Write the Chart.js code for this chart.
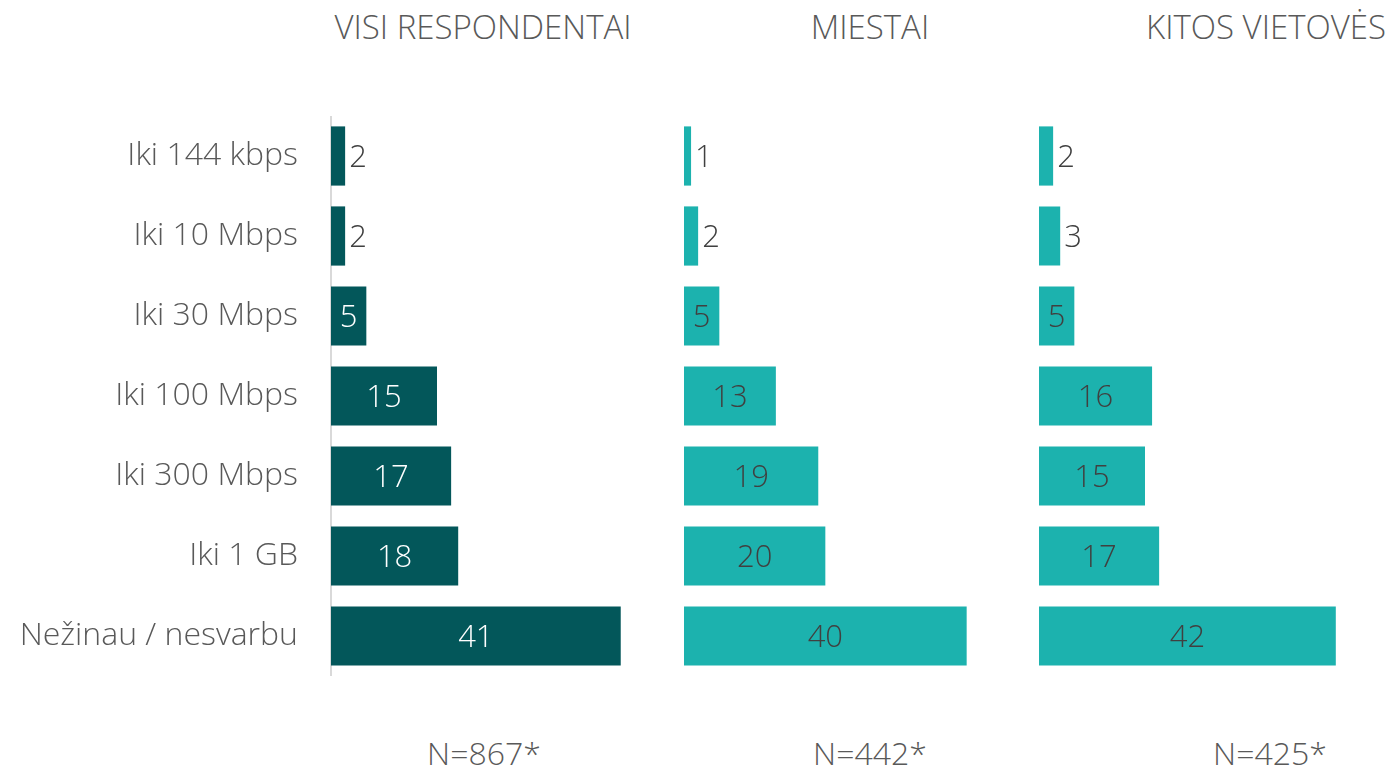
<!DOCTYPE html>
<html lang="lt">
<head>
  <meta charset="UTF-8">
  <title>Interneto greitis</title>
  <script src="https://cdn.jsdelivr.net/npm/chart.js"></script>
  <style>
    body {
      margin: 0;
      background-color: #fff;
      font-family: "Open Sans", sans-serif;
      font-weight: 300;
      color: #595959;
    }
    #wrap {
      position: relative;
      width: 1391px;
      height: 771px;
    }
    .title, .note {
      position: absolute;
      width: 400px;
      text-align: center;
      line-height: 44px;
      white-space: nowrap;
    }
    .title { top: 5px; font-size: 33px; }
    .note { top: 731px; font-size: 32px; }
    .panel { position: absolute; top: 116px; }
  </style>
</head>
<body>
  <div id="wrap">
    <div class="title" style="left:283px">VISI RESPONDENTAI</div>
    <div class="title" style="left:670px">MIESTAI</div>
    <div class="title" style="left:1066px">KITOS VIETOVĖS</div>

    <div class="panel" style="left:0"><canvas id="c1" width="649" height="560"></canvas></div>
    <div class="panel" style="left:684px"><canvas id="c2" width="318" height="560"></canvas></div>
    <div class="panel" style="left:1039px"><canvas id="c3" width="318" height="560"></canvas></div>

    <div class="note" style="left:284px">N=867*</div>
    <div class="note" style="left:670px">N=442*</div>
    <div class="note" style="left:1070px">N=425*</div>
  </div>

  <script>
    const categories = ["Iki 144 kbps", "Iki 10 Mbps", "Iki 30 Mbps", "Iki 100 Mbps", "Iki 300 Mbps", "Iki 1 GB", "Nežinau / nesvarbu"];
    const visi = [2, 2, 5, 15, 17, 18, 41];
    const miestai = [1, 2, 5, 13, 19, 20, 40];
    const kitos = [2, 3, 5, 16, 15, 17, 42];

    const FONT = "Open Sans";

    // draws value labels: centered inside the bar, or just past its end if it doesn't fit
    const barValues = {
      id: "barValues",
      afterDatasetsDraw(chart, args, opts) {
        const ctx = chart.ctx;
        const meta = chart.getDatasetMeta(0);
        const data = chart.data.datasets[0].data;
        ctx.save();
        ctx.font = "300 31px '" + FONT + "'";
        ctx.textBaseline = "middle";
        meta.data.forEach((bar, i) => {
          const txt = String(data[i]);
          const w = ctx.measureText(txt).width;
          const len = bar.x - bar.base;
          if (w + 8 > len) {
            ctx.fillStyle = opts.outside;
            ctx.textAlign = "left";
            ctx.fillText(txt, bar.x + 4, bar.y + 2);
          } else {
            ctx.fillStyle = opts.inside;
            ctx.textAlign = "center";
            ctx.fillText(txt, (bar.x + bar.base) / 2, bar.y + 2);
          }
        });
        ctx.restore();
      }
    };

    function makeChart(id, values, color, showLabels, insideColor) {
      const yAxis = {
        display: showLabels,
        grid: { display: false, drawTicks: false },
        border: { display: true, color: "#d9d9d9", width: 2 },
        ticks: {
          padding: 33,
          color: "#595959",
          font: { family: FONT, size: 32, weight: 300 }
        }
      };
      if (showLabels) {
        // fixed label column width, and no extra space above/below the bars
        yAxis.afterFit = (scale) => {
          scale.width = 331;
          scale.paddingTop = 0;
          scale.paddingBottom = 0;
        };
      }
      new Chart(document.getElementById(id), {
        type: "bar",
        data: {
          labels: categories,
          datasets: [{
            data: values,
            backgroundColor: color,
            borderWidth: 0,
            barPercentage: 0.74,
            categoryPercentage: 1
          }]
        },
        options: {
          indexAxis: "y",
          responsive: false,
          animation: false,
          layout: { padding: 0 },
          plugins: {
            legend: { display: false },
            tooltip: { enabled: false },
            barValues: { inside: insideColor, outside: "#404040" }
          },
          scales: {
            x: { display: false, min: 0, max: 45 },
            y: yAxis
          }
        },
        plugins: [barValues]
      });
    }

    makeChart("c1", visi, "#03575a", true, "#ffffff");
    makeChart("c2", miestai, "#1cb2ae", false, "#404040");
    makeChart("c3", kitos, "#1cb2ae", false, "#404040");
  </script>
</body>
</html>
